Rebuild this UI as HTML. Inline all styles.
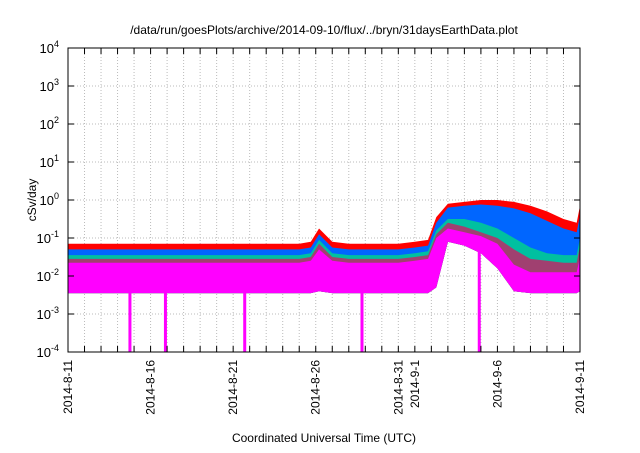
<!DOCTYPE html>
<html><head><meta charset="utf-8"><style>
body{margin:0;background:#fff}
svg text{font-family:"Liberation Sans",sans-serif;fill:#000}
</style></head><body>
<svg id="c" width="640" height="448" xmlns="http://www.w3.org/2000/svg"></svg>
<script>
const days=[0,1,2,3,4,5,6,7,8,9,10,11,12,13,14,14.7,15.2,16,17,18,19,20,21,21.8,22.3,23,24,25,26,27,28,29,30,30.8,31];
const redHi=[-1.15,-1.15,-1.15,-1.15,-1.15,-1.15,-1.15,-1.15,-1.15,-1.15,-1.15,-1.15,-1.15,-1.15,-1.15,-1.1,-0.75,-1.1,-1.15,-1.15,-1.15,-1.15,-1.1,-1.05,-0.45,-0.1,-0.05,0.0,0.0,-0.05,-0.15,-0.3,-0.5,-0.6,-0.15];
const blueHi=[-1.3,-1.3,-1.3,-1.3,-1.3,-1.3,-1.3,-1.3,-1.3,-1.3,-1.3,-1.3,-1.3,-1.3,-1.3,-1.25,-0.9,-1.25,-1.3,-1.3,-1.3,-1.3,-1.25,-1.2,-0.6,-0.2,-0.15,-0.12,-0.15,-0.22,-0.35,-0.55,-0.75,-0.85,-0.4];
const tealHi=[-1.45,-1.45,-1.45,-1.45,-1.45,-1.45,-1.45,-1.45,-1.45,-1.45,-1.45,-1.45,-1.45,-1.45,-1.45,-1.4,-1.05,-1.4,-1.45,-1.45,-1.45,-1.45,-1.4,-1.35,-0.8,-0.5,-0.5,-0.6,-0.75,-1.0,-1.25,-1.4,-1.45,-1.45,-1.0];
const purpleHi=[-1.55,-1.55,-1.55,-1.55,-1.55,-1.55,-1.55,-1.55,-1.55,-1.55,-1.55,-1.55,-1.55,-1.55,-1.55,-1.5,-1.15,-1.5,-1.55,-1.55,-1.55,-1.55,-1.5,-1.45,-0.9,-0.6,-0.7,-0.85,-1.0,-1.3,-1.55,-1.6,-1.65,-1.65,-1.2];
const magHi=[-1.65,-1.65,-1.65,-1.65,-1.65,-1.65,-1.65,-1.65,-1.65,-1.65,-1.65,-1.65,-1.65,-1.65,-1.65,-1.6,-1.3,-1.6,-1.65,-1.65,-1.65,-1.65,-1.6,-1.55,-1.0,-0.75,-0.85,-0.95,-1.15,-1.7,-1.9,-1.9,-1.9,-1.9,-1.5];
const magLo=[-2.45,-2.45,-2.45,-2.45,-2.45,-2.45,-2.45,-2.45,-2.45,-2.45,-2.45,-2.45,-2.45,-2.45,-2.45,-2.45,-2.4,-2.45,-2.45,-2.45,-2.45,-2.45,-2.45,-2.45,-2.3,-1.1,-1.2,-1.4,-1.8,-2.4,-2.45,-2.45,-2.45,-2.45,-2.4];
const spikeDays=[3.75,5.9,10.7,17.8,24.9];
const spikeTop=[-2.4,-2.4,-2.4,-2.4,-1.3];
const yTicks=[4,3,2,1,0,-1,-2,-3,-4];
const xLabels=["2014-8-11","2014-8-16","2014-8-21","2014-8-26","2014-8-31","2014-9-1","2014-9-6","2014-9-11"];
const xLabelDays=[0,5,10,15,20,21,26,31];

const svg=document.getElementById('c');
const NS='http://www.w3.org/2000/svg';
const L=68,R=580,T=48,B=352;
const X=d=>L+d/31*(R-L);
const Y=v=>T+(4-v)/8*(B-T);
function el(tag,attrs,parent){const e=document.createElementNS(NS,tag);for(const k in attrs)e.setAttribute(k,attrs[k]);(parent||svg).appendChild(e);return e;}

for(let d=1;d<31;d++){const g=el('line',{x1:X(d),x2:X(d),y1:T,y2:B,stroke:'#bbb','stroke-dasharray':'1,2','stroke-width':1});

}
yTicks.forEach(v=>{if(v<4&&v>-4){const g=el('line',{x1:L,x2:R,y1:Y(v),y2:Y(v),stroke:'#bbb','stroke-dasharray':'1,2'});

}});

function band(hi,color,name){
  let pts=days.map((d,i)=>X(d)+','+Y(hi[i]));
  for(let i=days.length-1;i>=0;i--)pts.push(X(days[i])+','+Y(magLo[i]));
  const p=el('polygon',{points:pts.join(' '),fill:color});
  
  
}
band(redHi,'#ff0000','series-red');
band(blueHi,'#0066ff','series-blue');
band(tealHi,'#00c0a0','series-teal');
band(purpleHi,'#a04070','series-purple');
band(magHi,'#ff00ff','series-magenta');
spikeDays.forEach((d,i)=>{
  const v=spikeTop[i];
  const s=el('rect',{x:X(d)-1.5,y:Y(v),width:3,height:B-Y(v),fill:'#ff00ff'});
  
  
});

const f=el('rect',{x:L,y:T,width:R-L,height:B-T,fill:'none',stroke:'#000','stroke-width':1});


for(let d=1;d<31;d++){
  el('line',{x1:X(d),x2:X(d),y1:T,y2:T+6,stroke:'#000'});
  el('line',{x1:X(d),x2:X(d),y1:B,y2:B-6,stroke:'#000'});
}
yTicks.forEach(v=>{
  el('line',{x1:L,x2:L+6,y1:Y(v),y2:Y(v),stroke:'#000'});
  el('line',{x1:R,x2:R-6,y1:Y(v),y2:Y(v),stroke:'#000'});
  const t=el('text',{x:L-9,y:Y(v)+5,'text-anchor':'end','font-size':13});
  
  
  t.textContent='10';
  const s=el('tspan',{dy:-6,'font-size':9},t);s.textContent=String(v);
});
xLabelDays.forEach((d,i)=>{
  const t=el('text',{x:0,y:0,'text-anchor':'end','font-size':12,transform:`translate(${X(d)+4},360) rotate(-90)`});
  
  
  t.textContent=xLabels[i];
});
let t=el('text',{x:324,y:34,'text-anchor':'middle','font-size':12});


t.textContent='/data/run/goesPlots/archive/2014-09-10/flux/../bryn/31daysEarthData.plot';
t=el('text',{x:0,y:0,'text-anchor':'middle','font-size':12,transform:'translate(36,200) rotate(-90)'});


t.textContent='cSv/day';
t=el('text',{x:324,y:442,'text-anchor':'middle','font-size':12});


t.textContent='Coordinated Universal Time (UTC)';
</script>
</body></html>
